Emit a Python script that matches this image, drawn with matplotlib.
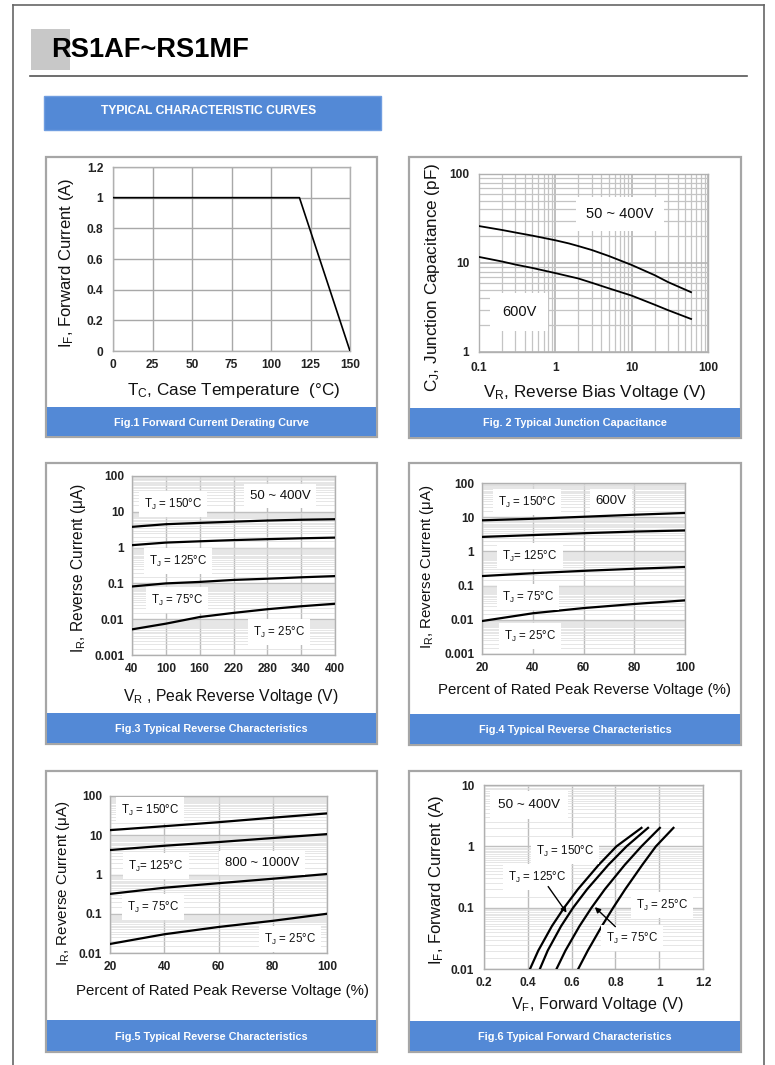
import numpy as np
import matplotlib
matplotlib.use("Agg")
import matplotlib.pyplot as plt
from matplotlib.patches import Rectangle
from matplotlib.ticker import LogLocator, NullFormatter

plt.rcParams['font.family'] = ['Liberation Sans', 'DejaVu Sans']
plt.rcParams['mathtext.fontset'] = 'custom'
plt.rcParams['mathtext.rm'] = 'Liberation Sans'
plt.rcParams['mathtext.it'] = 'Liberation Sans:italic'
plt.rcParams['mathtext.bf'] = 'Liberation Sans:bold'

# Fig.1 forward current derating
fig1_temp = [0, 118, 150]
fig1_current = [1.0, 1.0, 0.0]
fig1_xticks = [0, 25, 50, 75, 100, 125, 150]
fig1_yticks = [0, 0.2, 0.4, 0.6, 0.8, 1.0, 1.2]
fig1_ylabels = ['0', '0.2', '0.4', '0.6', '0.8', '1', '1.2']

# Fig.2 junction capacitance
fig2_vr_low = [0.1, 0.2, 0.3, 0.5, 1, 1.5, 2, 3, 5, 10, 20, 30, 60]
fig2_cj_low = [26, 23.5, 22, 20.3, 18, 16.6, 15.5, 14, 12, 9.5, 7.3, 6.1, 4.7]
fig2_vr_600 = [0.1, 0.2, 0.3, 0.5, 1, 2, 3, 5, 10, 20, 30, 60]
fig2_cj_600 = [11.7, 10.4, 9.6, 8.8, 7.7, 6.7, 6.0, 5.2, 4.3, 3.4, 2.95, 2.35]
fig2_xticks = [0.1, 1, 10, 100]
fig2_xlabels = ['0.1', '1', '10', '100']
fig2_yticks = [1, 10, 100]
fig2_ylabels = ['1', '10', '100']

# Fig.3 reverse current, 50~400V
fig3_vr = [40, 100, 160, 220, 280, 340, 400]
fig3_ir_150 = [3.8, 4.5, 4.9, 5.3, 5.7, 6.0, 6.2]
fig3_ir_125 = [1.17, 1.38, 1.5, 1.62, 1.72, 1.82, 1.9]
fig3_ir_75 = [0.082, 0.1, 0.11, 0.125, 0.135, 0.148, 0.16]
fig3_ir_25 = [0.0052, 0.0075, 0.0115, 0.015, 0.019, 0.023, 0.027]
fig3_xticks = [40, 100, 160, 220, 280, 340, 400]

# Fig.4 reverse current, 600V
fig4_pct = [20, 40, 60, 80, 100]
fig4_ir_150 = [8.1, 9.0, 10.3, 11.8, 13.3]
fig4_ir_125 = [2.65, 3.0, 3.4, 3.8, 4.1]
fig4_ir_75 = [0.19, 0.23, 0.27, 0.31, 0.35]
fig4_ir_25 = [0.0092, 0.0155, 0.022, 0.029, 0.037]

# Fig.5 reverse current, 800~1000V
fig5_pct = [20, 40, 60, 80, 100]
fig5_ir_150 = [13.5, 17, 21.5, 28, 36]
fig5_ir_125 = [4.2, 5.4, 6.7, 8.5, 10.7]
fig5_ir_75 = [0.32, 0.46, 0.6, 0.78, 1.03]
fig5_ir_25 = [0.017, 0.03, 0.046, 0.066, 0.1]

pct_ticks = [20, 40, 60, 80, 100]
ir_ticks_5 = [0.001, 0.01, 0.1, 1, 10, 100]
ir_labels_5 = ['0.001', '0.01', '0.1', '1', '10', '100']
ir_ticks_4 = [0.01, 0.1, 1, 10, 100]
ir_labels_4 = ['0.01', '0.1', '1', '10', '100']

# Fig.6 forward characteristics
fig6_if = [0.01, 0.02, 0.05, 0.1, 0.2, 0.5, 1, 2]
fig6_vf_150 = [0.41, 0.448, 0.51, 0.566, 0.629, 0.724, 0.805, 0.919]
fig6_vf_125 = [0.455, 0.491, 0.552, 0.607, 0.671, 0.768, 0.851, 0.949]
fig6_vf_75 = [0.531, 0.572, 0.636, 0.691, 0.752, 0.843, 0.919, 1.003]
fig6_vf_25 = [0.63, 0.674, 0.738, 0.79, 0.845, 0.923, 0.985, 1.065]
fig6_xticks = [0.2, 0.4, 0.6, 0.8, 1.0, 1.2]
fig6_xlabels = ['0.2', '0.4', '0.6', '0.8', '1', '1.2']
fig6_yticks = [0.01, 0.1, 1, 10]
fig6_ylabels = ['0.01', '0.1', '1', '10']

W, H = 775, 1065
BLUE = '#5389d6'
FRAME = '#a6a6a6'
TJ = r'T$_\mathregular{J}$'
TICK_SIZE = 8.6
IR_TITLE = r'I$_\mathregular{R}$, Reverse Current ($\mathregular{\mu}$A)'
PCT_TITLE = 'Percent of Rated Peak Reverse Voltage (%)'

fig = plt.figure(figsize=(W / 100, H / 100), dpi=100)
fig.patch.set_facecolor('white')


def rect(b):
    x0, y0, x1, y1 = b
    return [x0 / W, 1 - y1 / H, (x1 - x0) / W, (y1 - y0) / H]


# page layer, in pixel coordinates
bg = fig.add_axes([0, 0, 1, 1])
bg.set_xlim(0, W)
bg.set_ylim(H, 0)
bg.axis('off')

bg.plot([13, 13], [5, H], color='#666666', lw=1.2)
bg.plot([13, 764], [5, 5], color='#666666', lw=1.2)
bg.plot([764, 764], [5, H], color='#666666', lw=1.2)
bg.add_patch(Rectangle((31, 29), 39, 41, fc='#c8c8c8', ec='none'))
bg.text(51, 50, 'RS1AF~RS1MF', fontsize=19.6, fontweight='bold', va='center', ha='left')
bg.plot([30, 747], [76, 76], color='#555555', lw=1.2)
bg.add_patch(Rectangle((44, 96), 337, 34, fc=BLUE, ec='#6f9de0', lw=1))
bg.text(209, 111, 'TYPICAL CHARACTERISTIC CURVES', color='white', fontsize=8.7,
        fontweight='bold', ha='center', va='center')

panels = [
    ((46, 157, 377, 437), 407, 'Fig.1 Forward Current Derating Curve'),
    ((409, 157, 741, 438), 408, 'Fig. 2 Typical Junction Capacitance'),
    ((46, 463, 377, 744), 713, 'Fig.3 Typical Reverse Characteristics'),
    ((409, 463, 741, 745), 714, 'Fig.4 Typical Reverse Characteristics'),
    ((46, 771, 377, 1052), 1020, 'Fig.5 Typical Reverse Characteristics'),
    ((409, 771, 741, 1052), 1021, 'Fig.6 Typical Forward Characteristics'),
]
for (x0, y0, x1, y1), cy, cap in panels:
    bg.add_patch(Rectangle((x0, y0), x1 - x0, y1 - y0, fc='white', ec=FRAME, lw=1.6))
    bg.add_patch(Rectangle((x0 + 1, cy), x1 - x0 - 2, y1 - cy - 1, fc=BLUE, ec='none'))
    bg.text((x0 + x1) / 2, (cy + y1) / 2 + 0.5, cap, color='white', fontsize=7.8,
            fontweight='bold', ha='center', va='center')

# axis titles: x, y, text, rotation, size
labels = [
    (234, 391, r'T$_\mathregular{C}$, Case Temperature  (°C)', 0, 12.3),
    (66, 263, r'I$_\mathregular{F}$, Forward Current (A)', 90, 12.0),
    (595, 392, r'V$_\mathregular{R}$, Reverse Bias Voltage (V)', 0, 12.3),
    (433, 277, r'C$_\mathregular{J}$, Junction Capacitance (pF)', 90, 12.3),
    (231, 697, r'V$_\mathregular{R}$ , Peak Reverse Voltage (V)', 0, 11.3),
    (78, 568, IR_TITLE, 90, 11.2),
    (584, 690, PCT_TITLE, 0, 10.8),
    (427, 567, IR_TITLE, 90, 10.8),
    (222, 991, PCT_TITLE, 0, 10.8),
    (63, 883, IR_TITLE, 90, 10.9),
    (597, 1005, r'V$_\mathregular{F}$, Forward Voltage (V)', 0, 11.6),
    (437, 880, r'I$_\mathregular{F}$, Forward Current (A)', 90, 12.0),
]
for x, y, s, rot, size in labels:
    bg.text(x, y, s, fontsize=size, rotation=rot, ha='center', va='center', color='#111111')


def base_axes(box):
    ax = fig.add_axes(rect(box))
    for sp in ax.spines.values():
        sp.set_color('#b0b0b0')
        sp.set_linewidth(1)
    ax.tick_params(which='both', length=0, labelsize=TICK_SIZE, colors='#222222')
    ax.set_axisbelow(True)
    return ax


def bold_ticks(ax):
    for lab in ax.get_xticklabels() + ax.get_yticklabels():
        lab.set_fontweight('bold')
        lab.set_fontsize(TICK_SIZE)


def put(ax, box, x, y, s, size, pad=0.45):
    x0, y0, x1, y1 = box
    return ax.text((x - x0) / (x1 - x0), (y1 - y) / (y1 - y0), s, transform=ax.transAxes,
                   ha='center', va='center', fontsize=size, color='#111111', zorder=4,
                   bbox=dict(boxstyle='square,pad=%g' % pad, fc='white', ec='none'))


def log_minor_grid(ax, axis='y', subs=np.arange(1.5, 10, 0.5), color='#dcdcdc', lw=0.5):
    loc = LogLocator(base=10, subs=subs, numticks=100)
    target = ax.yaxis if axis == 'y' else ax.xaxis
    target.set_minor_locator(loc)
    target.set_minor_formatter(NullFormatter())
    ax.grid(True, which='minor', axis=axis, color=color, lw=lw)


# ---- Fig.1
b1 = (113, 167, 350, 351)
ax1 = base_axes(b1)
ax1.plot(fig1_temp, fig1_current, color='black', lw=1.2, zorder=3)
ax1.set_xlim(0, 150)
ax1.set_ylim(0, 1.2)
ax1.set_xticks(fig1_xticks)
ax1.set_yticks(fig1_yticks, fig1_ylabels)
ax1.grid(True, color='#a8a8a8', lw=1)
ax1.tick_params(axis='y', pad=7)
ax1.tick_params(axis='x', pad=6)
bold_ticks(ax1)

# ---- Fig.2
b2 = (479, 174, 708, 352)
ax2 = base_axes(b2)
ax2.plot(fig2_vr_low, fig2_cj_low, color='black', lw=1.3, zorder=3)
ax2.plot(fig2_vr_600, fig2_cj_600, color='black', lw=1.3, zorder=3)
ax2.set_xscale('log')
ax2.set_yscale('log')
ax2.set_xlim(0.1, 100)
ax2.set_ylim(1, 100)
ax2.set_xticks(fig2_xticks, fig2_xlabels)
ax2.set_yticks(fig2_yticks, fig2_ylabels)
log_minor_grid(ax2, 'x', subs=np.arange(2, 10), color='#c4c4c4', lw=0.9)
log_minor_grid(ax2, 'y', subs=np.arange(2, 10), color='#c4c4c4', lw=0.9)
ax2.grid(True, which='major', color='#b4b4b4', lw=1.2)
ax2.tick_params(axis='y', pad=7)
ax2.tick_params(axis='x', pad=7)
bold_ticks(ax2)
put(ax2, b2, 620, 214, '50 ~ 400V', 10.5, pad=0.7)
put(ax2, b2, 519, 312, '600V', 10.5, pad=0.8)


def reverse_axes(box, xs, curves, xlim, xticks, ylim, yticks, ylabels):
    ax = base_axes(box)
    for ys in curves:
        ax.plot(xs, ys, color='black', lw=1.6, zorder=3)
    ax.set_yscale('log')
    ax.set_xlim(*xlim)
    ax.set_ylim(*ylim)
    ax.set_xticks(xticks)
    ax.set_yticks(yticks, ylabels)
    log_minor_grid(ax, 'y')
    ax.grid(True, which='major', axis='y', color='#c0c0c0', lw=1)
    ax.grid(True, which='major', axis='x', color='#bcbcbc', lw=1)
    ax.tick_params(axis='y', pad=5.5)
    ax.tick_params(axis='x', pad=6)
    bold_ticks(ax)
    return ax


# ---- Fig.3
b3 = (132, 476, 335, 655)
ax3 = reverse_axes(b3, fig3_vr, [fig3_ir_150, fig3_ir_125, fig3_ir_75, fig3_ir_25],
                   (40, 400), fig3_xticks, (0.001, 100), ir_ticks_5, ir_labels_5)
put(ax3, b3, 173, 504, TJ + ' = 150°C', 8.3)
put(ax3, b3, 280, 496, '50 ~ 400V', 9.5)
put(ax3, b3, 178, 561, TJ + ' = 125°C', 8.3)
put(ax3, b3, 177, 600, TJ + ' = 75°C', 8.3)
put(ax3, b3, 279, 632, TJ + ' = 25°C', 8.3)

# ---- Fig.4
b4 = (482, 483, 685, 654)
ax4 = reverse_axes(b4, fig4_pct, [fig4_ir_150, fig4_ir_125, fig4_ir_75, fig4_ir_25],
                   (20, 100), pct_ticks, (0.001, 100), ir_ticks_5, ir_labels_5)
put(ax4, b4, 527, 502, TJ + ' = 150°C', 8.3)
put(ax4, b4, 611, 501, '600V', 9.5)
put(ax4, b4, 530, 556, TJ + '= 125°C', 8.3)
put(ax4, b4, 528, 597, TJ + ' = 75°C', 8.3)
put(ax4, b4, 530, 636, TJ + ' = 25°C', 8.3)

# ---- Fig.5
b5 = (110, 796, 327, 953)
ax5 = reverse_axes(b5, fig5_pct, [fig5_ir_150, fig5_ir_125, fig5_ir_75, fig5_ir_25],
                   (20, 100), pct_ticks, (0.01, 100), ir_ticks_4, ir_labels_4)
put(ax5, b5, 150, 810, TJ + ' = 150°C', 8.3)
put(ax5, b5, 156, 866, TJ + '= 125°C', 8.3)
put(ax5, b5, 262, 863, '800 ~ 1000V', 9.4)
put(ax5, b5, 153, 907, TJ + ' = 75°C', 8.3)
put(ax5, b5, 290, 939, TJ + ' = 25°C', 8.3)

# ---- Fig.6
b6 = (484, 785, 703, 969)
ax6 = base_axes(b6)
for vf in [fig6_vf_150, fig6_vf_125, fig6_vf_75, fig6_vf_25]:
    ax6.plot(vf, fig6_if, color='black', lw=1.6, zorder=3)
ax6.set_yscale('log')
ax6.set_xlim(0.2, 1.2)
ax6.set_ylim(0.01, 10)
ax6.set_xticks(fig6_xticks, fig6_xlabels)
ax6.set_yticks(fig6_yticks, fig6_ylabels)
log_minor_grid(ax6, 'y')
ax6.grid(True, which='major', axis='y', color='#c0c0c0', lw=1)
ax6.grid(True, which='major', axis='x', color='#bcbcbc', lw=1)
ax6.tick_params(axis='y', pad=7)
ax6.tick_params(axis='x', pad=6)
bold_ticks(ax6)
put(ax6, b6, 529, 805, '50 ~ 400V', 9.7, pad=0.6)
put(ax6, b6, 565, 851, TJ + ' = 150°C', 8.3)
put(ax6, b6, 537, 877, TJ + ' = 125°C', 8.3)
put(ax6, b6, 662, 905, TJ + ' = 25°C', 8.3)
put(ax6, b6, 632, 938, TJ + ' = 75°C', 8.3)
arrow = dict(arrowstyle='-|>', color='black', lw=1, mutation_scale=8, shrinkA=0, shrinkB=0)
ax6.annotate('', xy=(0.577, 0.083), xytext=(0.493, 0.221), arrowprops=arrow, zorder=5)
ax6.annotate('', xy=(0.706, 0.102), xytext=(0.80, 0.049), arrowprops=arrow, zorder=5)

fig.savefig('out.png', dpi=100)
